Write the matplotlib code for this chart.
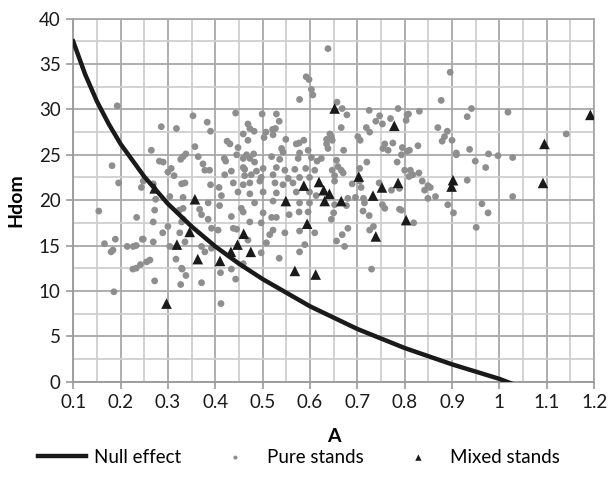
import matplotlib
matplotlib.use("Agg")
import matplotlib.pyplot as plt
from matplotlib.ticker import MultipleLocator

plt.rcParams['font.family'] = ['Lato', 'DejaVu Sans']

# Null effect curve
null_A = [0.1, 0.125, 0.15, 0.175, 0.2, 0.25, 0.3, 0.35, 0.4, 0.45, 0.5, 0.6, 0.7, 0.8, 0.9, 1.0, 1.04]
null_H = [37.5, 33.9, 30.9, 28.4, 26.2, 22.6, 19.6, 17.1, 14.9, 13.0, 11.3, 8.3, 5.8, 3.7, 1.9, 0.3, -0.5]

# Pure stands
pure_A = [
    0.193, 0.182, 0.196, 0.244, 0.154, 0.234, 0.166, 0.189, 0.184, 0.180, 0.214, 0.227, 0.233, 0.246, 0.226, 0.233, 0.242, 0.186,
    0.638, 0.592, 0.598, 0.603, 0.606, 0.578,
    0.353, 0.286, 0.318, 0.383, 0.390, 0.425, 0.265, 0.357, 0.338, 0.332, 0.327, 0.364, 0.282, 0.290, 0.374, 0.419, 0.422, 0.307, 0.300, 0.378, 0.388, 0.313, 0.420,
    0.443, 0.499, 0.529, 0.535, 0.469, 0.473, 0.482, 0.459, 0.507, 0.521, 0.527, 0.522, 0.503, 0.469, 0.549, 0.571, 0.577, 0.587, 0.431, 0.448, 0.540, 0.543, 0.578, 0.596,
    0.445, 0.466, 0.481, 0.459, 0.473, 0.483, 0.519, 0.536, 0.575, 0.603, 0.615, 0.459, 0.462, 0.487, 0.501, 0.529, 0.547, 0.568, 0.591, 0.610, 0.434, 0.462, 0.476,
    0.497, 0.522, 0.554, 0.578, 0.599,
    0.657, 0.668, 0.678, 0.725, 0.786, 0.805, 0.747, 0.770, 0.739, 0.753, 0.719, 0.726, 0.666, 0.642, 0.645, 0.635, 0.647, 0.701, 0.706, 0.758, 0.775, 0.635, 0.638,
    0.671, 0.754, 0.765, 0.795, 0.805, 0.793, 0.624, 0.656, 0.720, 0.784, 0.659, 0.666, 0.670, 0.647, 0.652, 0.705, 0.800,
    0.248, 0.269, 0.329, 0.336, 0.390, 0.408, 0.274, 0.304, 0.332, 0.413, 0.409, 0.385, 0.272, 0.324, 0.332, 0.367, 0.371, 0.332, 0.385, 0.269, 0.329, 0.392, 0.406,
    0.300, 0.289, 0.325, 0.248, 0.269, 0.336, 0.304, 0.371, 0.392, 0.255, 0.262, 0.317, 0.329, 0.378,
    0.438, 0.459, 0.473, 0.494, 0.526, 0.543, 0.564, 0.448, 0.473, 0.501, 0.529, 0.571, 0.599, 0.613, 0.483, 0.522, 0.578, 0.599, 0.455, 0.459, 0.501, 0.434, 0.519,
    0.529, 0.556, 0.577, 0.596, 0.473, 0.497, 0.438, 0.445, 0.522, 0.578, 0.610, 0.515, 0.469, 0.547, 0.508, 0.589, 0.497, 0.578, 0.535,
    0.652, 0.689, 0.705, 0.708, 0.746, 0.772, 0.789, 0.696, 0.713, 0.715, 0.680, 0.652, 0.677, 0.753, 0.758, 0.789, 0.650, 0.712, 0.725, 0.645, 0.680, 0.726, 0.734,
    0.668, 0.656, 0.673, 0.730,
    0.896, 0.877, 0.941, 0.932, 1.018, 1.141, 0.870, 0.890, 0.884, 0.879, 0.900, 0.937, 0.909, 0.909, 0.977, 0.997, 1.028, 0.949, 0.971, 0.932, 1.028, 0.828, 0.831,
    0.808, 0.803, 0.810, 0.812, 0.817, 0.830, 0.809, 0.837, 0.849, 0.854, 0.842, 0.865, 0.849,
    0.891, 0.903, 0.951, 0.963, 0.976, 0.819, 0.793,
    0.272, 0.327, 0.338, 0.330, 0.371, 0.412, 0.443, 0.434, 0.411, 0.459,
]
pure_H = [
    30.4, 23.8, 21.9, 21.4, 18.8, 18.1, 15.2, 15.7, 14.5, 14.3, 14.9, 14.9, 15.0, 15.7, 12.4, 12.5, 12.9, 9.9,
    36.7, 33.6, 33.3, 32.2, 31.6, 31.1,
    29.3, 28.1, 27.9, 28.6, 27.6, 26.5, 25.5, 25.9, 25.1, 24.8, 24.5, 24.8, 24.3, 24.2, 24.0, 24.6, 24.3, 23.5, 23.1, 23.3, 23.3, 22.7, 22.8,
    29.6, 29.5, 29.5, 28.7, 28.4, 27.9, 27.6, 27.3, 27.5, 27.8, 27.9, 27.2, 26.9, 26.6, 26.7, 26.2, 26.3, 26.6, 26.2, 25.8, 25.7, 25.3, 25.2, 25.5,
    25.0, 25.0, 25.1, 24.6, 24.6, 24.2, 24.8, 24.5, 24.6, 24.7, 24.3, 23.6, 23.4, 23.2, 23.5, 23.6, 23.3, 23.4, 23.5, 23.3, 23.2, 22.7, 22.8,
    22.5, 22.8, 22.4, 22.5, 22.5,
    30.8, 30.1, 29.4, 29.9, 30.1, 29.4, 29.3, 29.0, 28.7, 28.4, 28.0, 27.5, 28.0, 27.3, 27.0, 26.7, 26.6, 27.0, 26.6, 26.2, 26.3, 26.2, 25.7,
    25.5, 25.7, 25.5, 25.8, 25.4, 25.0, 24.6, 24.4, 24.2, 24.2, 23.7, 23.3, 23.0, 23.3, 22.7, 23.5, 23.3,
    22.1, 21.8, 21.8, 21.9, 21.7, 21.4, 20.1, 20.4, 20.3, 20.5, 19.4, 19.7, 18.9, 18.9, 19.1, 19.0, 18.4, 17.9, 17.9, 17.6, 17.6, 16.9, 16.7,
    17.1, 16.4, 16.4, 15.7, 15.4, 15.4, 14.9, 14.9, 14.7, 13.2, 13.4, 13.5, 12.5, 14.3,
    21.9, 21.7, 21.9, 22.1, 21.9, 21.7, 21.9, 20.9, 20.7, 20.9, 20.8, 20.9, 20.9, 20.5, 19.7, 19.9, 19.7, 19.7, 19.1, 18.7, 18.6, 18.2, 18.1,
    18.1, 18.4, 18.7, 18.7, 17.6, 17.5, 16.9, 16.8, 16.7, 16.6, 16.4, 16.2, 15.6, 16.4, 15.3, 15.1, 14.2, 14.3, 13.6,
    22.1, 21.8, 22.1, 21.4, 21.9, 21.1, 21.3, 20.3, 20.2, 19.7, 20.2, 19.5, 19.4, 19.5, 19.1, 19.0, 18.6, 18.8, 18.3, 17.9, 16.9, 16.7, 17.1,
    16.2, 15.5, 14.9, 12.4,
    34.1, 31.0, 30.1, 29.2, 29.7, 27.3, 28.0, 27.6, 27.0, 26.5, 26.6, 25.6, 25.2, 25.0, 25.1, 24.9, 24.7, 24.3, 23.6, 22.2, 20.4, 26.0, 29.8,
    29.5, 28.8, 25.5, 23.3, 22.8, 23.0, 22.6, 22.1, 21.6, 21.4, 21.1, 20.4, 20.2,
    19.5, 18.6, 17.0, 19.6, 18.6, 17.5, 18.9,
    11.1, 10.7, 11.7, 12.4, 10.9, 8.6, 11.3, 12.4, 12.0, 13.0,
]

# Mixed stands
mixed_A = [0.272, 0.357, 0.297, 0.319, 0.346, 0.363, 0.410, 0.433, 0.447, 0.460, 0.475, 0.549, 0.568, 0.587, 0.594,
           0.612, 0.619, 0.629, 0.631, 0.641, 0.652, 0.666, 0.703, 0.733, 0.739, 0.752, 0.778, 0.786, 0.803, 0.899,
           0.902, 1.095, 1.092, 1.192]
mixed_H = [21.3, 20.1, 8.6, 15.1, 16.5, 13.5, 13.3, 14.3, 15.1, 16.3, 14.3, 19.9, 12.2, 21.6, 17.4,
           11.8, 22.0, 21.1, 19.9, 20.7, 30.1, 19.9, 22.6, 20.5, 16.0, 21.4, 28.2, 21.9, 17.8, 21.5,
           22.2, 26.2, 21.9, 29.4]

x_ticks = [0.1, 0.2, 0.3, 0.4, 0.5, 0.6, 0.7, 0.8, 0.9, 1.0, 1.1, 1.2]
x_labels = ['0.1', '0.2', '0.3', '0.4', '0.5', '0.6', '0.7', '0.8', '0.9', '1', '1.1', '1.2']
y_ticks = [0, 5, 10, 15, 20, 25, 30, 35, 40]

fig = plt.figure(figsize=(6.1, 4.8), dpi=100)
ax = fig.add_axes([0.120, 0.205, 0.854, 0.756])

ax.set_xlim(0.1, 1.2)
ax.set_ylim(0, 40)
ax.set_xticks(x_ticks)
ax.set_xticklabels(x_labels)
ax.set_yticks(y_ticks)
ax.xaxis.set_minor_locator(MultipleLocator(0.05))
ax.yaxis.set_minor_locator(MultipleLocator(2.5))
ax.grid(which='major', color='#a8a8a8', linewidth=1.3, zorder=0)
ax.grid(which='minor', color='#cfcfcf', linewidth=1.3, zorder=0)
ax.set_axisbelow(True)
ax.tick_params(which='minor', length=0)
ax.tick_params(which='major', length=5, width=1.2, color='#999999', labelsize=13.5, labelcolor='#1a1a1a', pad=4)
for s in ax.spines.values():
    s.set_color('#a8a8a8')
    s.set_linewidth(1.3)
ax.spines['left'].set_color('#999999')
ax.spines['bottom'].set_color('#999999')

ax.scatter(pure_A, pure_H, s=24, color='#8e8e8e', edgecolors='none', zorder=3, label='Pure stands')
ax.scatter(mixed_A, mixed_H, s=58, marker='^', color='#1a1a1a', edgecolors='none', zorder=4, label='Mixed stands')
ax.plot(null_A, null_H, color='#1a1a1a', linewidth=3.2, zorder=5, label='Null effect', clip_on=True)

ax.set_xlabel('A', fontsize=14, fontweight='bold', labelpad=12)
ax.set_ylabel('Hdom', fontsize=14, fontweight='bold', labelpad=10)

handles, labels = ax.get_legend_handles_labels()
order = [2, 0, 1]
fig.legend([handles[i] for i in order], [labels[i] for i in order], loc='lower center',
           bbox_to_anchor=(0.49, -0.005), ncol=3, frameon=False, fontsize=13.5, markerscale=0.6,
           handlelength=2.6, columnspacing=1.6, handletextpad=0.4)

fig.savefig('out.png', dpi=100)
